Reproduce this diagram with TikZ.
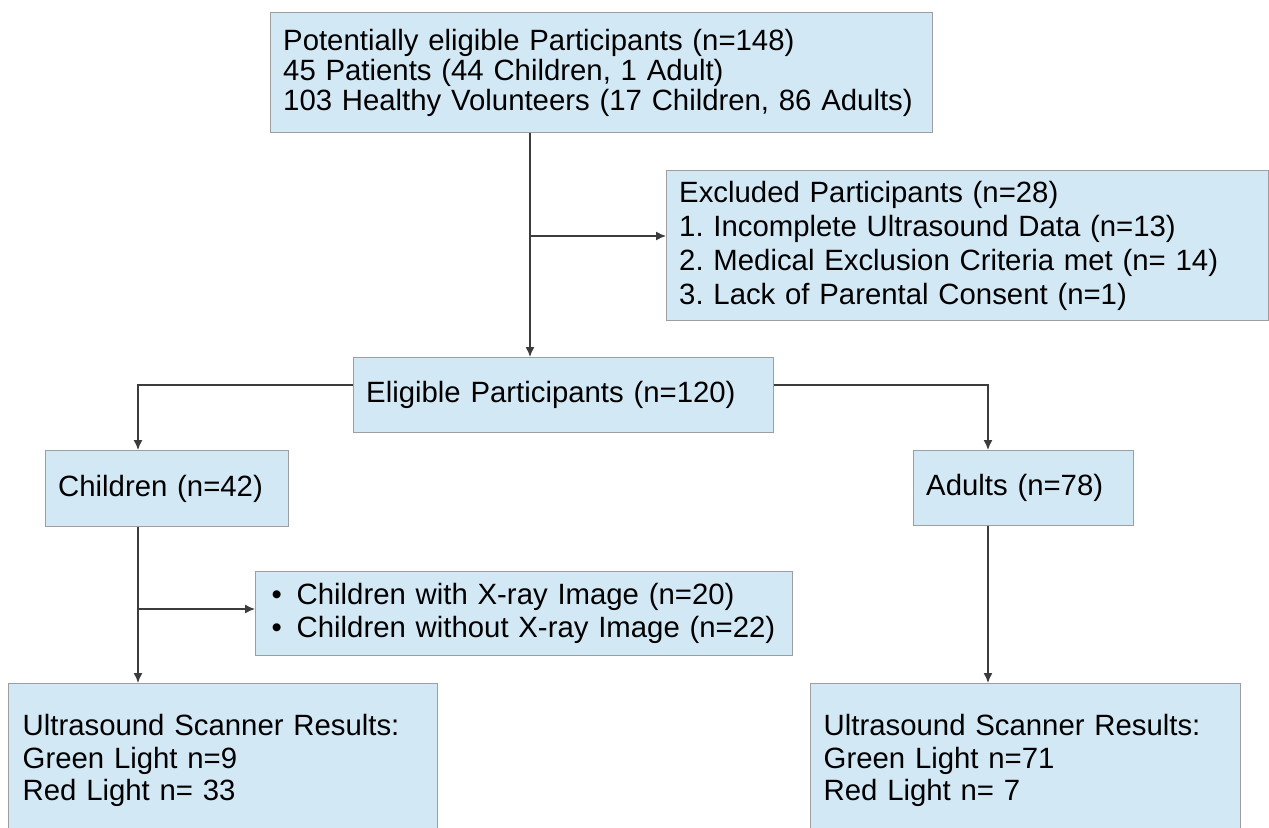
\documentclass[tikz,border=0pt]{standalone}
\usepackage{fontspec}
\setmainfont{Liberation Sans}
\usetikzlibrary{arrows.meta, positioning}

\definecolor{boxFill}{RGB}{211,232,245}
\definecolor{boxLine}{RGB}{158,158,158}
\definecolor{arrowLine}{RGB}{60,60,60}
\frenchspacing

\begin{document}
\begin{tikzpicture}[
    x=0.02cm, y=-0.02cm,
    flowBox/.style={draw=boxLine, fill=boxFill, line width=0.8pt, anchor=north west,
        inner xsep=0.25cm, inner ysep=0pt, align=left},
    textSize/.style={font=\fontsize{16.7}{#1}\selectfont},
    flowArrow/.style={draw=arrowLine, line width=0.8pt, -{Latex[length=2mm, width=1.8mm]}},
    every node/.style={
        textSize=17pt,
        }
        ]
    \useasboundingbox (0,0) rectangle (1269,828);
    \clip (0,0) rectangle (1269,828);

    \node[flowBox, text width=12.74cm, minimum height=2.4cm] (potential) at (270,12)
        {Potentially eligible Participants (n=148)\\45 Patients (44 Children, 1 Adult)\\103 Healthy Volunteers (17 Children, 86 Adults)};
    \node[flowBox, textSize=19.3pt, text width=11.54cm, minimum height=3cm] (excluded) at (666,170)
        {Excluded Participants (n=28)\\1. Incomplete Ultrasound Data (n=13)\\2. Medical Exclusion Criteria met (n= 14)\\3. Lack of Parental Consent (n=1)};
    \node[flowBox, text width=7.9cm, minimum height=1.5cm] (eligible) at (353,357) {Eligible Participants (n=120)};

    \node[flowBox, text width=4.36cm, minimum height=1.52cm] (children) at (45,450) {Children (n=42)};
    \node[flowBox, text width=3.9cm, minimum height=1.5cm] (adults) at (913,450) {Adults (n=78)};

    \node[flowBox, textSize=18.7pt, inner xsep=0.32cm, text width=10.1cm, minimum height=1.68cm] (xray) at (255,571)
        {\makebox[0.5cm][l]{\textbullet}Children with X-ray Image (n=20)\\\makebox[0.5cm][l]{\textbullet}Children without X-ray Image (n=22)};

    \node[flowBox, textSize=18.5pt, inner xsep=0.28cm, text width=8.02cm, minimum height=3.08cm] (resultsLeft) at (8,683)
        {Ultrasound Scanner Results:\\Green Light n=9\\Red Light n= 33};
    \node[flowBox, textSize=18.5pt, inner xsep=0.26cm, text width=8.08cm, minimum height=3.08cm] (resultsRight) at (810,683)
        {Ultrasound Scanner Results:\\Green Light n=71\\Red Light n= 7};

    % split points of the connectors
    \coordinate (trunk) at (530,236);
    \coordinate (splitLeft) at (138,385);
    \coordinate (splitRight) at (988,385);
    \coordinate (branch) at (138,609);

    \draw[flowArrow] (potential.south -| trunk) -- (eligible.north -| trunk);
    \draw[flowArrow] (trunk) -- (trunk -| excluded.west);
    \draw[flowArrow] (splitLeft -| eligible.west) -- (splitLeft) -- (children.north -| splitLeft);
    \draw[flowArrow] (splitRight -| eligible.east) -- (splitRight) -- (adults.north -| splitRight);
    \draw[flowArrow] (children.south -| branch) -- (resultsLeft.north -| branch);
    \draw[flowArrow] (branch) -- (branch -| xray.west);
    \draw[flowArrow] (adults.south -| splitRight) -- (resultsRight.north -| splitRight);
\end{tikzpicture}
\end{document}
